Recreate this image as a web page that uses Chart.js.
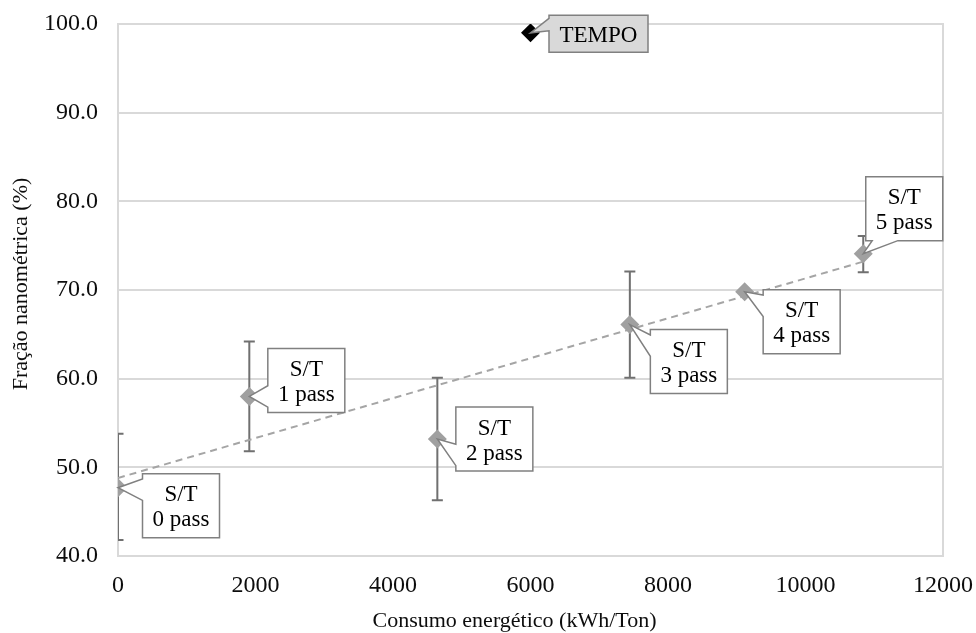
<!DOCTYPE html>
<html>
<head>
<meta charset="utf-8">
<title>Fração nanométrica x Consumo energético</title>
<script src="https://cdn.jsdelivr.net/npm/chart.js@4.4.1/dist/chart.umd.min.js"></script>
<style>
  html, body { margin: 0; padding: 0; background: #ffffff; }
  #wrap { width: 976px; height: 633px; position: relative; }
</style>
</head>
<body>
<div id="wrap"><canvas id="chart"></canvas></div>
<script>
// data
const energy = [0, 1910, 4645, 7445, 9115, 10840];          // kWh/Ton
const nanoFraction = [47.7, 58.0, 53.2, 66.1, 69.8, 74.1];  // %
const errLow = [41.8, 51.8, 46.3, 60.1, null, 72.0];
const errHigh = [53.8, 64.2, 60.1, 72.1, null, 76.1];
const passLabels = ['S/T\n0 pass', 'S/T\n1 pass', 'S/T\n2 pass', 'S/T\n3 pass', 'S/T\n4 pass', 'S/T\n5 pass'];

const tempoX = [6000];
const tempoY = [99.0];
const tempoLabels = ['TEMPO'];

// linear trendline (end points as drawn)
const trendX = [0, 10840];
const trendY = [48.8, 73.2];

const xTicks = [0, 2000, 4000, 6000, 8000, 10000, 12000];
const yTicks = [40, 50, 60, 70, 80, 90, 100];

const FONT = "'Liberation Serif', 'Times New Roman', serif";
const TEXT = '#0d0d0d';
Chart.defaults.font.family = FONT;
Chart.defaults.color = TEXT;

// build a path for an Excel-like rectangular callout with a wedge pointing to the marker
function calloutPath(ctx, bx, by, w, h, tx, ty) {
    const cx = bx + w / 2, cy = by + h / 2;
    const dx = tx - cx, dy = ty - cy;
    let side = null;
    if (tx < bx || tx > bx + w || ty < by || ty > by + h) {
        if (Math.abs(dx) * h > Math.abs(dy) * w) side = dx < 0 ? 'left' : 'right';
        else side = dy < 0 ? 'top' : 'bottom';
    }
    const xa = dx < 0 ? [bx + w / 12, bx + 5 * w / 12] : [bx + 7 * w / 12, bx + 11 * w / 12];
    const ya = dy < 0 ? [by + h / 12, by + 5 * h / 12] : [by + 7 * h / 12, by + 11 * h / 12];

    ctx.beginPath();
    ctx.moveTo(bx, by);
    if (side === 'top') { ctx.lineTo(xa[0], by); ctx.lineTo(tx, ty); ctx.lineTo(xa[1], by); }
    ctx.lineTo(bx + w, by);
    if (side === 'right') { ctx.lineTo(bx + w, ya[0]); ctx.lineTo(tx, ty); ctx.lineTo(bx + w, ya[1]); }
    ctx.lineTo(bx + w, by + h);
    if (side === 'bottom') { ctx.lineTo(xa[1], by + h); ctx.lineTo(tx, ty); ctx.lineTo(xa[0], by + h); }
    ctx.lineTo(bx, by + h);
    if (side === 'left') { ctx.lineTo(bx, ya[1]); ctx.lineTo(tx, ty); ctx.lineTo(bx, ya[0]); }
    ctx.closePath();
}

// frame of the plot area + error bars, drawn under the markers
const underlayPlugin = {
    id: 'underlay',
    beforeDatasetsDraw(chart) {
        const { ctx, chartArea: a, scales } = chart;
        ctx.save();
        ctx.strokeStyle = '#d9d9d9';
        ctx.lineWidth = 2;
        ctx.strokeRect(a.left, a.top, a.right - a.left, a.bottom - a.top);

        // error bars
        ctx.beginPath();
        ctx.rect(a.left, a.top, a.right - a.left, a.bottom - a.top);
        ctx.clip();
        ctx.strokeStyle = '#707070';
        ctx.lineWidth = 2;
        const cap = 5.5;
        energy.forEach((xv, i) => {
            if (errLow[i] == null) return;
            const x = scales.x.getPixelForValue(xv);
            const y1 = scales.y.getPixelForValue(errLow[i]);
            const y2 = scales.y.getPixelForValue(errHigh[i]);
            ctx.beginPath();
            ctx.moveTo(x, y1); ctx.lineTo(x, y2);
            ctx.moveTo(x - cap, y1); ctx.lineTo(x + cap, y1);
            ctx.moveTo(x - cap, y2); ctx.lineTo(x + cap, y2);
            ctx.stroke();
        });
        ctx.restore();
    }
};

// data labels in callout boxes
const calloutPlugin = {
    id: 'callouts',
    afterDatasetsDraw(chart, args, opts) {
        const { ctx } = chart;
        opts.sets.forEach(set => {
            const meta = chart.getDatasetMeta(set.dataset);
            meta.data.forEach((pt, i) => {
                const [ox, oy] = set.offsets[i];
                const w = set.size[0], h = set.size[1];
                const bx = pt.x + ox - w / 2, by = pt.y + oy - h / 2;
                ctx.save();
                calloutPath(ctx, bx, by, w, h, pt.x, pt.y);
                ctx.fillStyle = set.fill;
                ctx.fill();
                ctx.lineWidth = 1.5;
                ctx.strokeStyle = '#808080';
                ctx.stroke();
                ctx.fillStyle = '#000000';
                ctx.font = '23px ' + FONT;
                ctx.textAlign = 'center';
                ctx.textBaseline = 'middle';
                const lines = set.labels[i].split('\n');
                const lh = 25;
                lines.forEach((ln, k) => {
                    ctx.fillText(ln, bx + w / 2, by + h / 2 + 2 + (k - (lines.length - 1) / 2) * lh);
                });
                ctx.restore();
            });
        });
    }
};

// axis titles (Excel placed them slightly off the plot-area centre)
const axisTitlePlugin = {
    id: 'axisTitles',
    afterDraw(chart, args, opts) {
        const { ctx, chartArea: a } = chart;
        ctx.save();
        ctx.fillStyle = TEXT;
        ctx.font = '22px ' + FONT;
        ctx.textAlign = 'center';
        ctx.textBaseline = 'middle';
        ctx.fillText(opts.x, (a.left + a.right) / 2 - 16, 621);
        ctx.translate(21, (a.top + a.bottom) / 2 - 6);
        ctx.rotate(-Math.PI / 2);
        ctx.fillText(opts.y, 0, 0);
        ctx.restore();
    }
};

// fixed axis boxes so the plot area lands where it is in the figure
function fixBox(size, dim) {
    return s => {
        s[dim] = size;
        s.paddingTop = 0; s.paddingBottom = 0;
        s.paddingLeft = 0; s.paddingRight = 0;
    };
}

const ctx = document.getElementById('chart').getContext('2d');

new Chart(ctx, {
    type: 'scatter',
    data: {
        datasets: [
            {
                label: 'S/T',
                data: energy.map((x, i) => ({ x: x, y: nanoFraction[i] })),
                pointStyle: 'rectRot',
                pointRadius: 9.5,
                backgroundColor: '#a0a0a0',
                borderColor: '#a0a0a0',
                borderWidth: 0
            },
            {
                label: 'TEMPO',
                data: tempoX.map((x, i) => ({ x: x, y: tempoY[i] })),
                pointStyle: 'rectRot',
                pointRadius: 9.5,
                backgroundColor: '#000000',
                borderColor: '#000000',
                borderWidth: 0
            },
            {
                label: 'Linear (S/T)',
                data: trendX.map((x, i) => ({ x: x, y: trendY[i] })),
                showLine: true,
                pointRadius: 0,
                borderColor: '#a5a5a5',
                borderWidth: 2,
                borderDash: [7, 5]
            }
        ]
    },
    options: {
        responsive: true,
        maintainAspectRatio: false,
        animation: false,
        devicePixelRatio: 1,
        layout: { padding: { left: 0, right: 33, top: 24, bottom: 0 } },
        scales: {
            x: {
                type: 'linear',
                min: 0,
                max: 12000,
                afterBuildTicks: s => { s.ticks = xTicks.map(v => ({ value: v })); },
                afterFit: fixBox(77, 'height'),
                grid: { display: false, drawTicks: false },
                border: { display: false },
                ticks: {
                    padding: 15,
                    maxRotation: 0,
                    font: { size: 24 },
                    color: TEXT,
                    callback: v => String(v)
                }
            },
            y: {
                type: 'linear',
                min: 40,
                max: 100,
                afterBuildTicks: s => { s.ticks = yTicks.map(v => ({ value: v })); },
                afterFit: fixBox(118, 'width'),
                grid: { color: '#d9d9d9', lineWidth: 2, drawTicks: false },
                border: { display: false },
                ticks: {
                    padding: 20,
                    font: { size: 24 },
                    color: TEXT,
                    callback: v => Number(v).toFixed(1)
                }
            }
        },
        plugins: {
            legend: { display: false },
            tooltip: { enabled: false },
            callouts: {
                sets: [
                    {
                        dataset: 0,
                        labels: passLabels,
                        size: [77, 64],
                        fill: '#ffffff',
                        offsets: [[63, 18], [57, -16], [57, 0], [59, 37], [57, 30], [41, -45]]
                    },
                    {
                        dataset: 1,
                        labels: tempoLabels,
                        size: [99, 37],
                        fill: '#d9d9d9',
                        offsets: [[68, 1]]
                    }
                ]
            },
            axisTitles: {
                x: 'Consumo energético (kWh/Ton)',
                y: 'Fração nanométrica (%)'
            }
        }
    },
    plugins: [underlayPlugin, calloutPlugin, axisTitlePlugin]
});
</script>
</body>
</html>
